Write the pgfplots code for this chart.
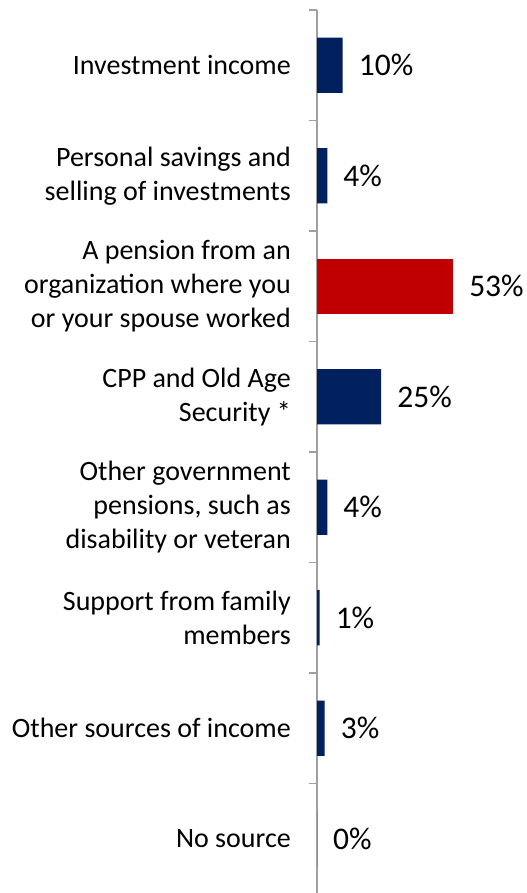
\documentclass[border=0pt]{standalone}
\usepackage{pgfplots}
\pgfplotsset{compat=1.18}
\usepackage{fontspec}
\setmainfont{Carlito}
\definecolor{navy}{RGB}{0,32,96}
\definecolor{bred}{RGB}{192,0,0}
\definecolor{axgray}{RGB}{160,160,160}
\begin{document}
\begin{tikzpicture}
\begin{axis}[
  at={(317bp,-10bp)}, anchor=north west,
  scale only axis, width=210bp, height=884bp,
  xmin=0, xmax=81.8, ymin=-0.5, ymax=7.5, y dir=reverse,
  xbar, bar width=0.5, bar shift=0pt,
  axis x line=none, axis y line*=left,
  y axis line style={draw=axgray, line width=1.4bp},
  ytick={0,1,2,3,4,5,6,7},
  yticklabels={{Investment income},{Personal savings and\\selling of investments},{A pension from an\\organization where you\\or your spouse worked},{CPP and Old Age\\Security *},{Other government\\pensions, such as\\disability or veteran},{Support from family\\members},{Other sources of income},{No source}},
  yticklabel style={align=right, inner sep=0pt, xshift=-26bp, font=\fontsize{28bp}{34bp}\selectfont},
  major tick length=0pt,
  minor ytick={-0.5,0.5,1.5,2.5,3.5,4.5,5.5,6.5},
  minor tick length=8bp, tick align=outside,
  minor tick style={draw=axgray, line width=1.4bp},
  point meta=x,
  nodes near coords={\pgfmathprintnumber[assume math mode=true]{\pgfplotspointmeta}\%},
  nodes near coords style={anchor=west, inner sep=0pt, xshift=16bp, font=\fontsize{31.5bp}{37bp}\selectfont, text=black},
]
\addplot[fill=navy, draw=none] coordinates {(10,0) (4,1) (25,3) (4,4) (1,5) (3,6) (0,7)};
\addplot[fill=bred, draw=none] coordinates {(53,2)};
\end{axis}
\pgfresetboundingbox
\path[use as bounding box] (0,0) rectangle (527bp,-893bp);
\end{tikzpicture}
\end{document}
